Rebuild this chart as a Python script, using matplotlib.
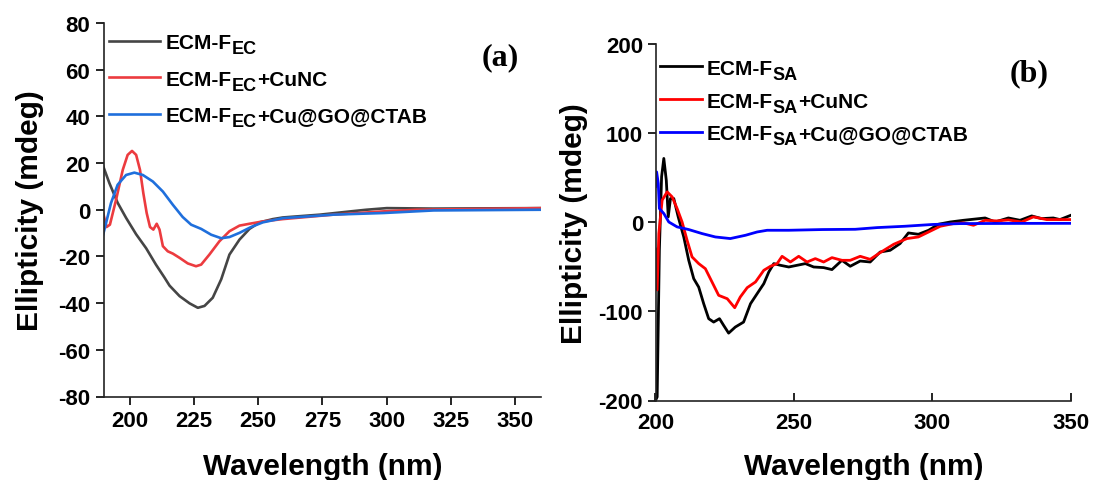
import matplotlib
matplotlib.use("Agg")
import matplotlib.pyplot as plt

plt.rcParams['font.family'] = ['Liberation Sans', 'DejaVu Sans']
plt.rcParams['font.weight'] = 'bold'
plt.rcParams['axes.unicode_minus'] = False

# ---------------- Panel (a) data ----------------
a_ec_wl = [189.5, 192.1, 195.3, 198.6, 202.5, 206.4, 210.2, 213.5, 215.5, 219.4,
           223.3, 226.5, 229.1, 232.3, 235.6, 238.8, 242.7, 246.6, 250.5, 255.7,
           259.6, 274.0, 285.0, 292.0, 300.0, 318.0, 360.0]
a_ec_val = [19.2, 11.4, 3.0, -3.5, -10.5, -16.5, -23.5, -29.0, -32.5, -37.0,
            -40.1, -42.0, -41.2, -37.7, -29.8, -19.2, -12.8, -8.2, -5.4, -4.0,
            -3.3, -2.1, -0.8, 0.0, 0.7, 0.5, 0.7]

a_cu_wl = [189.5, 191.0, 192.3, 194.7, 197.3, 199.2, 200.9, 202.5, 204.0, 205.3,
           206.6, 207.9, 209.2, 210.5, 211.6, 212.9, 214.8, 216.8, 219.4, 222.6,
           225.8, 227.8, 231.0, 234.9, 238.8, 242.7, 246.6, 251.8, 259.6, 279.2,
           298.7, 311.7, 360.0]
a_cu_val = [-0.7, -7.4, -6.4, 4.3, 17.1, 23.5, 25.2, 23.5, 17.1, 7.1,
            -1.4, -7.4, -8.5, -6.0, -8.5, -15.6, -17.8, -18.8, -20.6, -23.0,
            -24.2, -23.5, -19.2, -13.5, -9.2, -6.8, -6.0, -5.0, -4.0, -2.1,
            -0.7, 0.0, 0.7]

a_go_wl = [189.5, 190.8, 192.7, 195.3, 198.6, 201.8, 205.1, 209.0, 212.9, 216.8,
           220.6, 223.9, 227.8, 231.7, 235.6, 238.8, 242.7, 247.2, 251.8, 259.6,
           279.2, 298.7, 318.2, 360.0]
a_go_val = [-11.4, -5.7, 2.8, 10.7, 14.9, 15.9, 14.9, 12.1, 7.8, 2.1,
            -3.1, -6.4, -8.2, -10.7, -12.2, -11.7, -9.9, -7.4, -5.4, -3.6,
            -2.1, -1.4, -0.3, 0.0]

# ---------------- Panel (b) data ----------------
b_sa_wl = [200.0, 200.6, 201.4, 202.2, 203.0, 203.9, 204.6, 205.4, 206.6, 208.2,
           210.2, 212.0, 213.8, 215.6, 217.4, 219.2, 221.0, 223.1, 224.6, 226.4,
           228.8, 231.8, 234.3, 236.7, 239.1, 240.9, 242.7, 245.1, 248.1, 251.1,
           254.1, 257.1, 260.7, 263.7, 267.3, 270.3, 273.9, 277.5, 281.1, 284.7,
           288.3, 291.3, 294.9, 298.6, 302.2, 306.4, 311.2, 314.8, 319.0, 322.6,
           327.4, 331.6, 335.8, 339.4, 343.6, 346.0, 350.0]
b_sa_val = [-200.0, -196.0, -31.0, 51.0, 71.6, 47.0, 6.0, 26.6, 26.6, 6.0,
            -16.5, -42.7, -63.3, -72.8, -91.4, -108.2, -112.0, -108.2, -115.7, -124.4,
            -117.6, -112.0, -91.4, -80.1, -68.9, -55.8, -46.4, -48.3, -50.2, -48.3,
            -46.4, -50.2, -50.9, -53.1, -42.7, -49.4, -43.5, -44.6, -33.4, -31.5,
            -23.9, -12.0, -13.5, -9.0, -2.2, 0.3, 2.2, 3.4, 4.8, 0.3,
            4.8, 2.2, 7.1, 4.1, 4.8, 3.0, 7.9]

b_cu_wl = [200.0, 200.6, 201.2, 202.4, 204.2, 206.0, 207.8, 209.6, 211.4, 213.2,
           215.6, 218.0, 220.4, 222.8, 225.9, 228.6, 230.6, 233.1, 236.1, 239.1,
           241.5, 243.9, 245.7, 248.7, 251.7, 254.7, 257.7, 260.7, 263.7, 267.3,
           270.3, 273.9, 277.5, 281.1, 286.0, 290.8, 294.9, 298.6, 302.8, 307.6,
           311.2, 314.8, 319.0, 323.2, 327.4, 332.2, 336.4, 341.2, 346.0, 350.0]
b_cu_val = [-30.0, -76.0, -12.7, 24.7, 34.1, 28.5, 15.4, 0.3, -20.2, -38.9,
            -46.4, -52.1, -67.0, -82.0, -85.8, -95.9, -83.9, -73.4, -67.0, -53.9,
            -49.4, -46.4, -38.2, -44.6, -38.2, -44.6, -40.8, -44.6, -39.7, -42.7,
            -42.7, -38.2, -41.6, -34.1, -24.7, -18.3, -16.5, -10.9, -4.5, -1.5,
            -0.7, -3.4, 2.2, 1.5, 2.6, 0.3, 6.0, 3.0, 3.0, 3.0]

b_go_wl = [200.0, 200.4, 201.0, 201.4, 203.0, 204.8, 207.8, 212.0, 216.8, 221.6,
           227.0, 232.5, 236.7, 240.3, 248.1, 260.1, 272.1, 280.0, 290.0, 300.0,
           310.0, 330.0, 350.0]
b_go_val = [40.0, 56.5, 43.5, 15.4, 9.8, 0.3, -5.2, -8.2, -12.7, -16.5,
            -18.3, -14.6, -10.9, -9.0, -9.0, -8.2, -7.9, -6.0, -4.5, -2.5,
            -1.5, -1.3, -1.2]

a_xticks = [200, 225, 250, 275, 300, 325, 350]
a_yticks = [-80, -60, -40, -20, 0, 20, 40, 60, 80]
b_xticks = [200, 250, 300, 350]
b_yticks = [-200, -100, 0, 100, 200]

a_main = ['ECM-F', 'ECM-F', 'ECM-F']
a_subs = ['EC', 'EC', 'EC']
a_rest = ['', '+CuNC', '+Cu@GO@CTAB']
b_main = ['ECM-F', 'ECM-F', 'ECM-F']
b_subs = ['SA', 'SA', 'SA']
b_rest = ['', '+CuNC', '+Cu@GO@CTAB']

W, H = 1093, 481
fig = plt.figure(figsize=(W / 100, H / 100), dpi=100)

def frac(l, t, r, b):
    return [l / W, 1 - b / H, (r - l) / W, (b - t) / H]

axa = fig.add_axes(frac(104, 24, 541, 397.5))
axb = fig.add_axes(frac(655.5, 45, 1071, 401.5))

LEG_FS = 15
SUB_FS = 13

# Panel a
axa.plot(a_ec_wl, a_ec_val, color='#454545', lw=1.9, label=a_main[0])
axa.plot(a_cu_wl, a_cu_val, color='#ec3b3f', lw=1.9, label=a_main[1])
axa.plot(a_go_wl, a_go_val, color='#1f6fdc', lw=1.9, label=a_main[2])
axa.set_xlim(190, 360)
axa.set_ylim(-80, 80)
axa.set_xticks(a_xticks)
axa.set_yticks(a_yticks)
axa.tick_params(axis='both', direction='out', length=6, width=1.2, labelsize=16, pad=4)
for s in ['top', 'right']:
    axa.spines[s].set_visible(False)
for s in ['left', 'bottom']:
    axa.spines[s].set_linewidth(1.2)
    axa.spines[s].set_color('#222222')
axa.set_ylabel('Ellipticity (mdeg)', fontsize=21.5, fontweight='bold', labelpad=10)
axa.set_xlabel('Wavelength (nm)', fontsize=21.5, fontweight='bold', labelpad=15)
lega = axa.legend(loc='upper left', bbox_to_anchor=(0.0, 0.987), frameon=False,
                  prop={'size': LEG_FS, 'weight': 'bold'}, handlelength=2.45,
                  handletextpad=0.24, labelspacing=0.85, borderpad=0.1,
                  borderaxespad=0.15)
axa.text(0.865, 0.91, '(a)', transform=axa.transAxes, fontsize=23,
         fontweight='bold', family='Liberation Serif', ha='left', va='center')

# Panel b
axb.plot(b_sa_wl, b_sa_val, color='black', lw=2.0, label=b_main[0])
axb.plot(b_cu_wl, b_cu_val, color='#ff0000', lw=2.0, label=b_main[1])
axb.plot(b_go_wl, b_go_val, color='#0000ff', lw=2.0, label=b_main[2])
axb.set_xlim(200, 350)
axb.set_ylim(-200, 200)
axb.set_xticks(b_xticks)
axb.set_yticks(b_yticks)
axb.tick_params(axis='y', direction='out', length=6, width=1.2, labelsize=16, pad=3)
axb.tick_params(axis='x', direction='in', length=6, width=1.2, labelsize=16, pad=8.5)
for s in ['top', 'right']:
    axb.spines[s].set_visible(False)
for s in ['left', 'bottom']:
    axb.spines[s].set_linewidth(1.2)
    axb.spines[s].set_color('#222222')
axb.set_ylabel('Ellipticity (mdeg)', fontsize=21.5, fontweight='bold', labelpad=7.5)
axb.set_xlabel('Wavelength (nm)', fontsize=21.5, fontweight='bold', labelpad=13.5)
legb = axb.legend(loc='upper left', bbox_to_anchor=(0.0, 0.972), frameon=False,
                  prop={'size': LEG_FS, 'weight': 'bold'}, handlelength=2.0,
                  handletextpad=0.24, labelspacing=0.67, borderpad=0.1,
                  borderaxespad=0.12)
axb.text(0.853, 0.92, '(b)', transform=axb.transAxes, fontsize=23,
         fontweight='bold', family='Liberation Serif', ha='left', va='center')

# subscript and remainder of legend labels
fig.canvas.draw()
r = fig.canvas.get_renderer()
fw, fh = fig.bbox.width, fig.bbox.height

def finish_labels(leg, subs, rests):
    for t, sub, rest in zip(leg.get_texts(), subs, rests):
        bb = t.get_window_extent(r)
        st = fig.text(bb.x1 / fw, (bb.y0 - 5.0) / fh, sub, fontsize=SUB_FS,
                      fontweight='bold', ha='left', va='bottom')
        sb = st.get_window_extent(r)
        if rest:
            fig.text((sb.x1 + 0.5) / fw, bb.y0 / fh, rest, fontsize=LEG_FS,
                     fontweight='bold', ha='left', va='bottom')

finish_labels(lega, a_subs, a_rest)
finish_labels(legb, b_subs, b_rest)

fig.savefig('out.png', dpi=100)
